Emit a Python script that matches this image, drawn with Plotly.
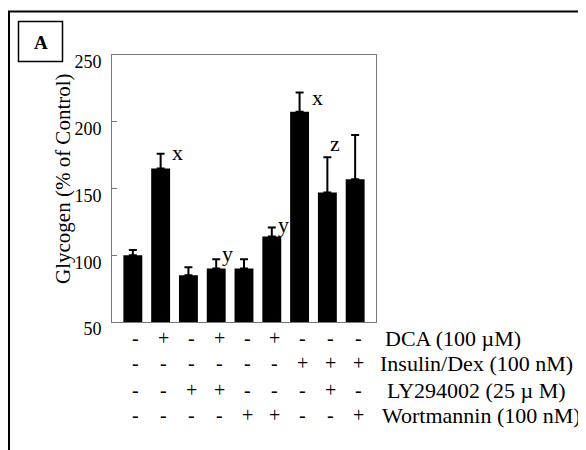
import plotly.graph_objects as go

# ---- data ----
glycogen = [100, 165, 85, 90, 90, 114, 207.5, 147, 157]
sem = [4, 11, 6, 7, 7, 6.7, 14.5, 26.5, 33]
sig_letters = ["", "x", "", "y", "", "y", "x", "z", ""]
row_labels = ["DCA (100 \u00b5M)", "Insulin/Dex (100 nM)", "LY294002 (25 \u00b5 M)", "Wortmannin (100 nM)"]
dca = ["-", "+", "-", "+", "-", "+", "-", "-", "-"]
insulin = ["-", "-", "-", "-", "-", "-", "+", "+", "+"]
ly = ["-", "-", "+", "+", "-", "-", "-", "+", "-"]
wort = ["-", "-", "-", "-", "+", "+", "-", "-", "+"]
y_ticks = [50, 100, 150, 200, 250]
y_title = "Glycogen (% of Control)"
panel = "A"

# ---- layout geometry (page pixels; body has an 8px margin) ----
OFF = 8
W, H = 586 - OFF, 450 - OFF
L, R, T, B = 112, 376, 55, 322  # plot area in page pixels
FONT = "Liberation Serif, Times New Roman, serif"


def px(xp):
    return (xp - L) / (R - L)


def py(yp):
    return (B - yp) / (B - T)


n = len(glycogen)
xs = list(range(n))

fig = go.Figure()
fig.add_trace(go.Bar(
    x=xs, y=glycogen, width=0.68,
    marker=dict(color="black", line=dict(width=0)),
    error_y=dict(type="data", symmetric=False, array=sem,
                 arrayminus=[0] * n, color="black", thickness=2, width=4),
    showlegend=False,
))

annotations = []
# significance letters
letter_shift = [(0, 0), (17, 1), (0, 0), (11, 6), (0, 0), (12, 3), (18, -5), (8, 14), (0, 0)]
for i, s in enumerate(sig_letters):
    if s:
        annotations.append(dict(x=xs[i], y=glycogen[i] + sem[i], xref="x", yref="y",
                                text=s, showarrow=False, xshift=letter_shift[i][0],
                                yshift=letter_shift[i][1], xanchor="center", yanchor="middle",
                                font=dict(family=FONT, size=22, color="black")))

# treatment table
rows = [dca, insulin, ly, wort]
row_y = [338, 363, 390, 415]
label_x = [383, 378, 385, 380]
for r, (signs, yy) in enumerate(zip(rows, row_y)):
    for i, s in enumerate(signs):
        annotations.append(dict(x=xs[i], y=py(yy), xref="x", yref="paper",
                                text=s, showarrow=False, xshift=3,
                                xanchor="center", yanchor="middle",
                                font=dict(family=FONT, size=20, color="black")))
    annotations.append(dict(x=px(label_x[r]), y=py(yy), xref="paper", yref="paper",
                            text=row_labels[r], showarrow=False, xanchor="left",
                            yanchor="middle",
                            font=dict(family=FONT, size=22, color="black")))

# y title
annotations.append(dict(x=px(63), y=py(179), xref="paper", yref="paper",
                        text=y_title, textangle=-90, showarrow=False,
                        xanchor="center", yanchor="middle",
                        font=dict(family=FONT, size=21, color="black")))
# panel letter
annotations.append(dict(x=px(40.5), y=py(42), xref="paper", yref="paper",
                        text="<b>%s</b>" % panel, showarrow=False,
                        xanchor="center", yanchor="middle",
                        font=dict(family=FONT, size=19, color="black")))

shapes = [
    # outer frame
    dict(type="rect", xref="paper", yref="paper", x0=px(9), x1=px(700),
         y0=py(600), y1=py(11.5), line=dict(color="black", width=2)),
    # panel box
    dict(type="rect", xref="paper", yref="paper", x0=px(18.5), x1=px(62.5),
         y0=py(61.5), y1=py(21.5), line=dict(color="black", width=1.5)),
]

fig.update_layout(
    width=W, height=H,
    margin=dict(l=L - OFF, r=586 - R, t=T - OFF, b=450 - B, pad=0),
    paper_bgcolor="white", plot_bgcolor="white",
    font=dict(family=FONT, color="black"),
    annotations=annotations,
    shapes=shapes,
    xaxis=dict(range=[-0.75, n - 0.25], showticklabels=False, ticks="",
               showgrid=False, zeroline=False, showline=True, mirror=True,
               linecolor="#777", linewidth=1),
    yaxis=dict(range=[50, 250], tickvals=y_ticks, ticks="inside", ticklen=5,
               tickcolor="#777", showgrid=False, zeroline=False, showline=True,
               mirror=True, linecolor="#777", linewidth=1,
               ticklabelstandoff=6, ticklabelshift=7,
               tickfont=dict(family=FONT, size=18, color="black")),
)

fig.write_html("out.html")
